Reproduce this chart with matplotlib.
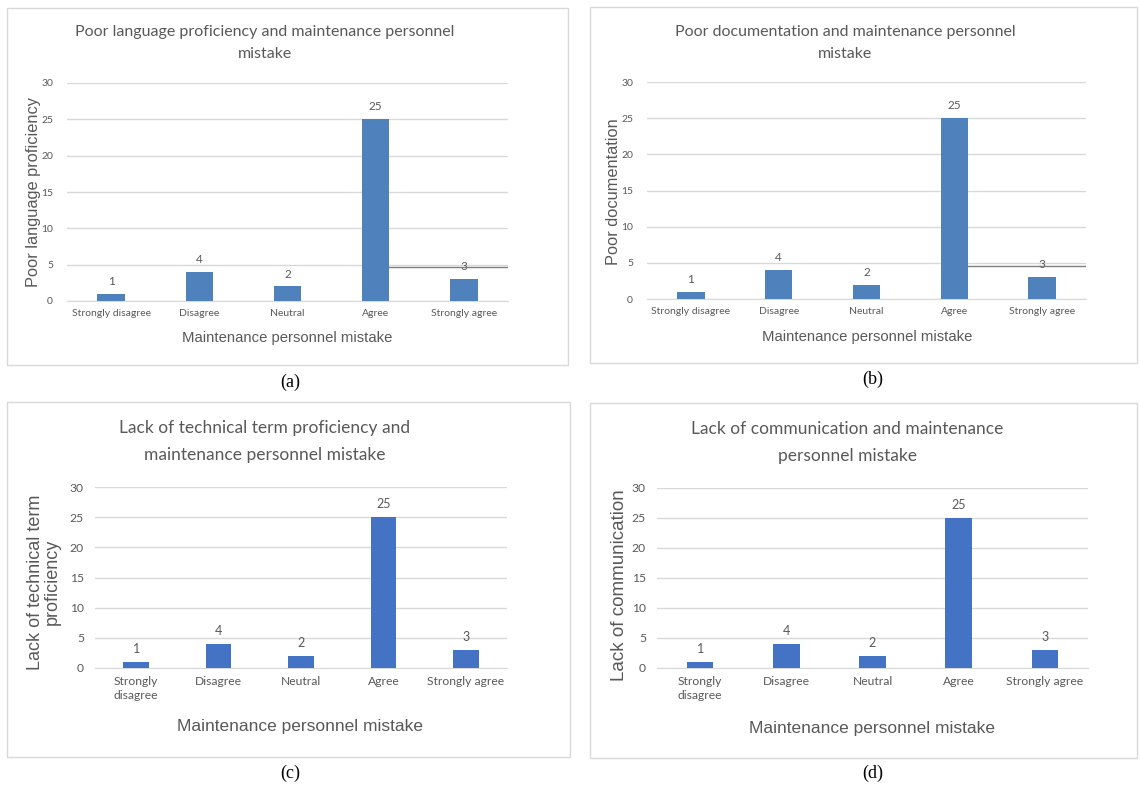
import matplotlib
matplotlib.use("Agg")
import matplotlib.pyplot as plt
from matplotlib.patches import Rectangle

# Data
categories = ["Strongly disagree", "Disagree", "Neutral", "Agree", "Strongly agree"]
categories_wrapped = ["Strongly\ndisagree", "Disagree", "Neutral", "Agree", "Strongly agree"]
language_counts = [1, 4, 2, 25, 3]
documentation_counts = [1, 4, 2, 25, 3]
technical_counts = [1, 4, 2, 25, 3]
communication_counts = [1, 4, 2, 25, 3]
yticks = [0, 5, 10, 15, 20, 25, 30]

W, H = 1140, 791
GRID = "#d9d9d9"
TXT = "#595959"

fig = plt.figure(figsize=(W / 100, H / 100), dpi=100)


def px_axes(x0, y0, x1, y1):
    """Axes from pixel box (top-left origin)."""
    return fig.add_axes([x0 / W, 1 - y1 / H, (x1 - x0) / W, (y1 - y0) / H])


def px_text(x, y, s, **kw):
    fig.text(x / W, 1 - y / H, s, ha="center", va="center", **kw)


def border(x0, y0, x1, y1):
    fig.patches.append(Rectangle((x0 / W, 1 - y1 / H), (x1 - x0) / W, (y1 - y0) / H,
                                 transform=fig.transFigure, fill=False,
                                 edgecolor=GRID, linewidth=1.0))


def bar_panel(box, values, labels, color, tick_fs, val_fs, ypad):
    ax = px_axes(*box)
    x = range(len(values))
    bars = ax.bar(x, values, width=0.31, color=color, zorder=3)
    ax.set_xlim(-0.5, len(values) - 0.5)
    ax.set_ylim(0, 30)
    ax.set_yticks(yticks)
    ax.set_xticks(list(x))
    ax.set_xticklabels(labels, fontsize=tick_fs, color=TXT, family="Lato", linespacing=1.3)
    ax.set_yticklabels([str(t) for t in yticks], fontsize=tick_fs, color=TXT, family="Lato")
    ax.tick_params(axis="x", length=0, pad=6)
    ax.tick_params(axis="y", length=0, pad=ypad)
    ax.grid(axis="y", color=GRID, linewidth=1.0, zorder=0)
    for s in ["top", "right", "left"]:
        ax.spines[s].set_visible(False)
    ax.spines["bottom"].set_color(GRID)
    for b, v in zip(bars, values):
        ax.annotate(str(v), (b.get_x() + b.get_width() / 2, v), xytext=(0, 5),
                    textcoords="offset points", ha="center", va="bottom",
                    fontsize=val_fs, color=TXT, family="Lato")
    ax.set_facecolor("none")
    return ax, bars


# (a)
border(7, 8, 568, 365)
ax, bars = bar_panel((67, 83, 508, 301), language_counts, categories, "#4f81bd", 7.5, 8.5, 10)
# stray line from the source image
b = bars[3]
ax.plot([b.get_x() + b.get_width(), 4.5], [4.7, 4.7], color="#7f7f7f", lw=1.0, zorder=4)
px_text(265, 32, "Poor language proficiency and maintenance personnel", fontsize=11.5, color=TXT, family="Lato")
px_text(265, 54, "mistake", fontsize=11.5, color=TXT, family="Lato")
px_text(287, 338, "Maintenance personnel mistake", fontsize=10.7, color=TXT, family="Liberation Sans")
px_text(34, 192, "Poor language proficiency", fontsize=11.8, color=TXT, family="Liberation Sans", rotation=90)
px_text(290, 382, "(a)", fontsize=13, color="black", family="Liberation Serif")

# (b)
border(590, 7, 1137, 363)
ax, bars = bar_panel((647, 82, 1086, 299), documentation_counts, categories, "#4f81bd", 7.5, 8.5, 10)
b = bars[3]
ax.plot([b.get_x() + b.get_width(), 4.5], [4.6, 4.6], color="#7f7f7f", lw=1.0, zorder=4)
px_text(845, 32, "Poor documentation and maintenance personnel", fontsize=11.5, color=TXT, family="Lato")
px_text(845, 54, "mistake", fontsize=11.5, color=TXT, family="Lato")
px_text(867, 337, "Maintenance personnel mistake", fontsize=10.7, color=TXT, family="Liberation Sans")
px_text(614, 192, "Poor documentation", fontsize=11.8, color=TXT, family="Liberation Sans", rotation=90)
px_text(873, 379, "(b)", fontsize=13, color="black", family="Liberation Serif")

# (c)
border(7, 402, 570, 757)
bar_panel((95, 487, 507, 668), technical_counts, categories_wrapped, "#4472c4", 8.7, 9, 8)
px_text(265, 428, "Lack of technical term proficiency and", fontsize=12.5, color=TXT, family="Lato")
px_text(265, 455, "maintenance personnel mistake", fontsize=12.5, color=TXT, family="Lato")
px_text(300, 727, "Maintenance personnel mistake", fontsize=12.5, color=TXT, family="Liberation Sans")
px_text(44, 582, "Lack of technical term\nproficiency", fontsize=13, color=TXT, family="Liberation Sans",
        rotation=90, linespacing=1.0)
px_text(290, 773, "(c)", fontsize=13, color="black", family="Liberation Serif")

# (d)
border(590, 403, 1137, 758)
bar_panel((657, 488, 1088, 668), communication_counts, categories_wrapped, "#4472c4", 8.7, 9, 8)
px_text(847, 429, "Lack of communication and maintenance", fontsize=12.5, color=TXT, family="Lato")
px_text(847, 456, "personnel mistake", fontsize=12.5, color=TXT, family="Lato")
px_text(872, 728, "Maintenance personnel mistake", fontsize=12.5, color=TXT, family="Liberation Sans")
px_text(620, 585, "Lack of communication", fontsize=13.5, color=TXT, family="Liberation Sans", rotation=90)
px_text(873, 773, "(d)", fontsize=13, color="black", family="Liberation Serif")

fig.savefig("out.png", dpi=100, facecolor="white")
